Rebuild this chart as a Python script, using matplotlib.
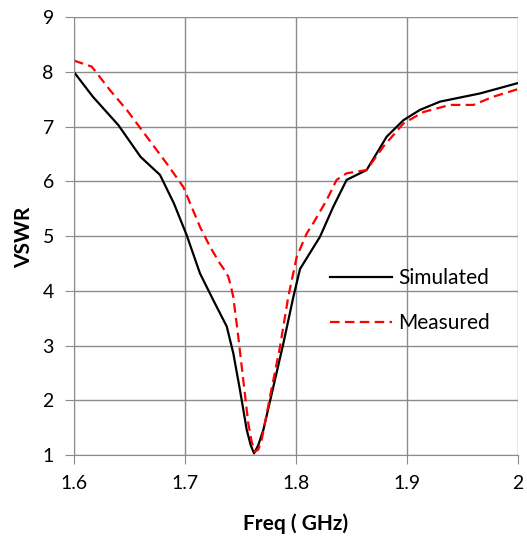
import numpy as np
import matplotlib.pyplot as plt

# Simulated VSWR
sim_freq = [1.600, 1.617, 1.640, 1.660, 1.6775, 1.690, 1.7015, 1.7135, 1.7255, 1.7376,
            1.7435, 1.7495, 1.7556, 1.7592, 1.7622, 1.766, 1.7706, 1.7796, 1.7886, 1.7976,
            1.8036, 1.8216, 1.8336, 1.8456, 1.8636, 1.8817, 1.8967, 1.9117, 1.9297,
            1.9658, 2.000]
sim_vswr = [8.00, 7.55, 7.03, 6.45, 6.12, 5.60, 5.02, 4.32, 3.83, 3.35,
            2.86, 2.19, 1.46, 1.18, 1.03, 1.18, 1.46, 2.25, 3.04, 3.89,
            4.40, 4.99, 5.54, 6.03, 6.21, 6.82, 7.12, 7.31, 7.46,
            7.61, 7.80]

# Measured VSWR
meas_freq = [1.600, 1.616, 1.6324, 1.6475, 1.6655, 1.6835, 1.6985, 1.7135, 1.7225, 1.7315,
             1.7346, 1.739, 1.741, 1.7435, 1.748, 1.7525, 1.757, 1.760, 1.763, 1.766,
             1.769, 1.7766, 1.7856, 1.793, 1.8006, 1.8096, 1.8156, 1.8276, 1.8366,
             1.8456, 1.8636, 1.8787, 1.8967, 1.9147, 1.9387, 1.9598, 1.9777, 2.000]
meas_vswr = [8.21, 8.10, 7.67, 7.31, 6.82, 6.33, 5.90, 5.17, 4.81, 4.50,
             4.41, 4.26, 4.11, 3.89, 3.16, 2.37, 1.58, 1.25, 1.06, 1.10,
             1.27, 2.07, 2.98, 3.89, 4.62, 5.05, 5.24, 5.66, 6.03,
             6.15, 6.21, 6.64, 7.06, 7.27, 7.40, 7.40, 7.55, 7.69]

plt.rcParams['font.family'] = ['Lato', 'DejaVu Sans']

fig = plt.figure(figsize=(5.27, 5.37), dpi=100)
ax = fig.add_axes([0.1404, 0.1527, 0.8426, 0.8149])

ax.plot(sim_freq, sim_vswr, color='black', lw=1.6, label='Simulated')
ax.plot(meas_freq, meas_vswr, color='red', lw=1.6, ls=(0, (4.3, 2.4)), label='Measured')

ax.set_xlim(1.6, 2.0)
ax.set_ylim(1, 9)
ax.set_xticks([1.6, 1.7, 1.8, 1.9, 2.0])
ax.set_xticklabels(['1.6', '1.7', '1.8', '1.9', '2'])
ax.set_yticks(range(1, 10))

ax.grid(True, color='#8c8c8c', lw=1)
ax.set_axisbelow(True)
for s in ['top', 'right']:
    ax.spines[s].set_visible(False)
for s in ['left', 'bottom']:
    ax.spines[s].set_color('#8c8c8c')
ax.tick_params(direction='out', length=6.5, color='#8c8c8c', labelsize=14, pad=8)

ax.set_xlabel('Freq ( GHz)', fontsize=15, fontweight='bold')
ax.set_ylabel('VSWR', fontsize=15, fontweight='bold')
ax.xaxis.set_label_coords(0.498, -0.158)
ax.xaxis.label.set_verticalalignment('center')
ax.yaxis.set_label_coords(-0.1126, 0.497)
ax.yaxis.label.set_verticalalignment('center')

leg = ax.legend(loc='upper left', bbox_to_anchor=(0.534, 0.47), frameon=False,
                fontsize=15, handlelength=3.0, labelspacing=1.2, handletextpad=0.3)

fig.savefig('out.png', dpi=100)
